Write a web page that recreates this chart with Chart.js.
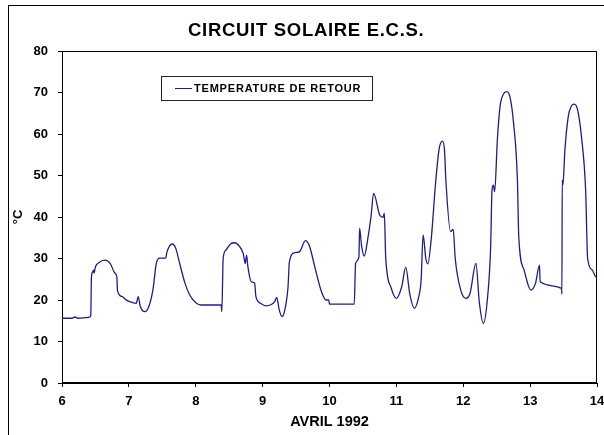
<!DOCTYPE html>
<html>
<head>
<meta charset="utf-8">
<script src="https://cdn.jsdelivr.net/npm/chart.js@4/dist/chart.umd.min.js"></script>
<style>
    html, body { margin: 0; padding: 0; background: #fff; }
    canvas { display: block; }
</style>
</head>
<body>
<canvas id="chart" width="604" height="435"></canvas>
<script>
// Return temperature of the solar DHW loop, 6-14 April 1992.
const TITLE = 'CIRCUIT SOLAIRE E.C.S.';
const SERIES_LABEL = 'TEMPERATURE DE RETOUR';
const X_TITLE = 'AVRIL 1992';
const Y_TITLE = '°C';
const X_TICKS = [6, 7, 8, 9, 10, 11, 12, 13, 14];
const Y_TICKS = [0, 10, 20, 30, 40, 50, 60, 70, 80];

// day of month (fractional) / temperature in °C
const days = [
    6.00, 6.15, 6.19, 6.24, 6.40, 6.43, 6.44, 6.46, 6.47, 6.48, 6.50, 6.55, 6.64, 6.72, 6.79, 6.82, 6.83,
    6.90, 6.97, 7.05, 7.11, 7.14, 7.17, 7.24, 7.30, 7.36, 7.41, 7.46, 7.55, 7.57, 7.65, 7.70, 7.76, 7.84,
    7.91, 8.01, 8.08, 8.38, 8.39, 8.41, 8.45, 8.52, 8.58, 8.65, 8.71, 8.74, 8.76, 8.78, 8.83, 8.88, 8.90,
    8.97, 9.05, 9.18, 9.21, 9.25, 9.29, 9.33, 9.38, 9.40, 9.48, 9.55, 9.64, 9.70, 9.78, 9.88, 9.95, 9.99,
    10.00, 10.37, 10.39, 10.44, 10.45, 10.48, 10.52, 10.57, 10.62, 10.66, 10.75, 10.80, 10.82, 10.84,
    10.92, 11.00, 11.08, 11.14, 11.20, 11.27, 11.33, 11.37, 11.40, 11.44, 11.47, 11.52, 11.59, 11.64,
    11.69, 11.72, 11.74, 11.81, 11.85, 11.88, 11.96, 12.04, 12.10, 12.19, 12.24, 12.30, 12.36, 12.41,
    12.43, 12.45, 12.47, 12.51, 12.55, 12.60, 12.65, 12.70, 12.75, 12.81, 12.83, 12.91, 13.01, 13.08, 13.14, 13.15,
    13.47, 13.475, 13.48, 13.49, 13.52, 13.57, 13.62, 13.66, 13.71, 13.77, 13.83, 13.86, 13.93, 13.98, 14.00
];
const temps = [
    15.6, 15.6, 15.9, 15.6, 15.8, 16.2, 25.6, 26.8, 27.2, 26.5, 28.0, 29.0, 29.6, 28.8, 26.5, 25.5, 22.2,
    20.8, 19.9, 19.4, 19.2, 20.8, 18.5, 17.2, 18.5, 22.5, 28.8, 30.1, 30.1, 31.6, 33.5, 32.5, 28.8, 24.0,
    21.2, 19.2, 18.8, 18.8, 17.2, 30.0, 32.0, 33.5, 33.8, 33.0, 31.2, 28.8, 30.8, 28.0, 24.4, 24.1, 20.8,
    19.2, 18.6, 19.6, 20.6, 17.5, 16.0, 17.5, 23.2, 29.2, 31.4, 31.6, 34.3, 33.0, 28.0, 22.0, 20.0, 20.0,
    19.0, 19.0, 28.8, 30.4, 37.3, 33.0, 30.6, 34.5, 40.0, 45.7, 40.5, 39.9, 40.9, 30.4,
    23.0, 20.4, 23.2, 27.9, 21.5, 18.0, 20.5, 24.8, 35.7, 30.0, 28.7, 34.5, 48.9, 56.5,
    58.3, 56.0, 48.9, 36.5, 37.0, 30.0, 22.5, 20.4, 21.5, 28.8, 19.5, 14.4, 20.0, 32.9,
    46.5, 47.7, 46.1, 58.6, 66.6, 69.6, 70.2, 68.8, 63.0, 48.9, 35.3, 27.2, 22.4, 24.0, 28.4, 24.4,
    22.8, 21.4, 48.9, 47.7, 56.1, 64.2, 66.8, 67.2, 65.8, 59.0, 46.5, 30.0, 27.2, 25.6, 25.5
];

const LINE_COLOR = '#1c1c92';
const FONT = 'Arial, "Liberation Sans", sans-serif';

// Outer frame, plot box, title and the boxed legend of the original sheet.
const decor = {
    id: 'decor',
    beforeDraw(chart) {
        const { ctx } = chart;
        ctx.save();
        ctx.strokeStyle = '#000';
        ctx.lineWidth = 1;
        ctx.strokeRect(8.5, 5.5, 610, 440);

        ctx.fillStyle = '#000';
        ctx.font = `bold 18.5px ${FONT}`;
        ctx.letterSpacing = '0.7px';
        ctx.textAlign = 'left';
        ctx.textBaseline = 'middle';
        ctx.fillText(TITLE, 188, 31);
        ctx.restore();
    },
    beforeDatasetsDraw(chart) {
        const { ctx, chartArea: a } = chart;
        ctx.save();
        ctx.strokeStyle = '#000';
        ctx.lineWidth = 1;
        ctx.strokeRect(Math.round(a.left) + 0.5, Math.round(a.top) + 0.5,
            Math.round(a.right - a.left) - 1, Math.round(a.bottom - a.top) - 1);
        ctx.restore();
    },
    afterDatasetsDraw(chart) {
        const { ctx } = chart;
        ctx.save();
        ctx.fillStyle = '#fff';
        ctx.fillRect(161.5, 76.5, 211, 24);
        ctx.strokeStyle = '#222';
        ctx.lineWidth = 1;
        ctx.strokeRect(161.5, 76.5, 211, 24);
        ctx.strokeStyle = LINE_COLOR;
        ctx.beginPath();
        ctx.moveTo(175, 88.5);
        ctx.lineTo(192, 88.5);
        ctx.stroke();
        ctx.fillStyle = '#000';
        ctx.font = `bold 11px ${FONT}`;
        ctx.letterSpacing = '0.8px';
        ctx.textBaseline = 'middle';
        ctx.fillText(SERIES_LABEL, 194, 89);
        ctx.restore();
    }
};

const tickFont = { family: FONT, size: 13, weight: 'bold' };

new Chart(document.getElementById('chart').getContext('2d'), {
    type: 'line',
    data: {
        datasets: [{
            label: SERIES_LABEL,
            data: days.map((d, i) => ({ x: d, y: temps[i] })),
            borderColor: LINE_COLOR,
            borderWidth: 1.3,
            pointRadius: 0,
            cubicInterpolationMode: 'monotone',
            fill: false
        }]
    },
    options: {
        responsive: false,
        animation: false,
        devicePixelRatio: 1,
        layout: { padding: { top: 51, right: 7, bottom: 0, left: 0 } },
        plugins: {
            legend: { display: false },
            title: { display: false },
            tooltip: { enabled: false }
        },
        scales: {
            x: {
                type: 'linear',
                min: 6,
                max: 14,
                afterBuildTicks: s => { s.ticks = X_TICKS.map(v => ({ value: v })); },
                afterFit: s => { s.height = 52; s.paddingLeft = 0; s.paddingRight = 0; },
                ticks: { color: '#000', font: tickFont, padding: 7, maxRotation: 0 },
                grid: { drawOnChartArea: false, drawTicks: true, tickLength: 4, color: '#000' },
                border: { color: '#000', width: 1 },
                title: {
                    display: true, text: X_TITLE, color: '#000',
                    font: { family: FONT, size: 14.5, weight: 'bold' },
                    padding: { top: 0, bottom: 4.6 }
                }
            },
            y: {
                min: 0,
                max: 80,
                afterBuildTicks: s => { s.ticks = Y_TICKS.map(v => ({ value: v })); },
                afterFit: s => { s.width = 62; s.paddingTop = 0; s.paddingBottom = 0; },
                ticks: { color: '#000', font: tickFont, padding: 10 },
                grid: { drawOnChartArea: false, drawTicks: true, tickLength: 4, color: '#000' },
                border: { color: '#000', width: 1 },
                title: {
                    display: true, text: Y_TITLE, color: '#000',
                    font: { family: FONT, size: 13, weight: 'bold' },
                    padding: { top: 10.2, bottom: 0 }
                }
            }
        }
    },
    plugins: [decor]
});
</script>
</body>
</html>
